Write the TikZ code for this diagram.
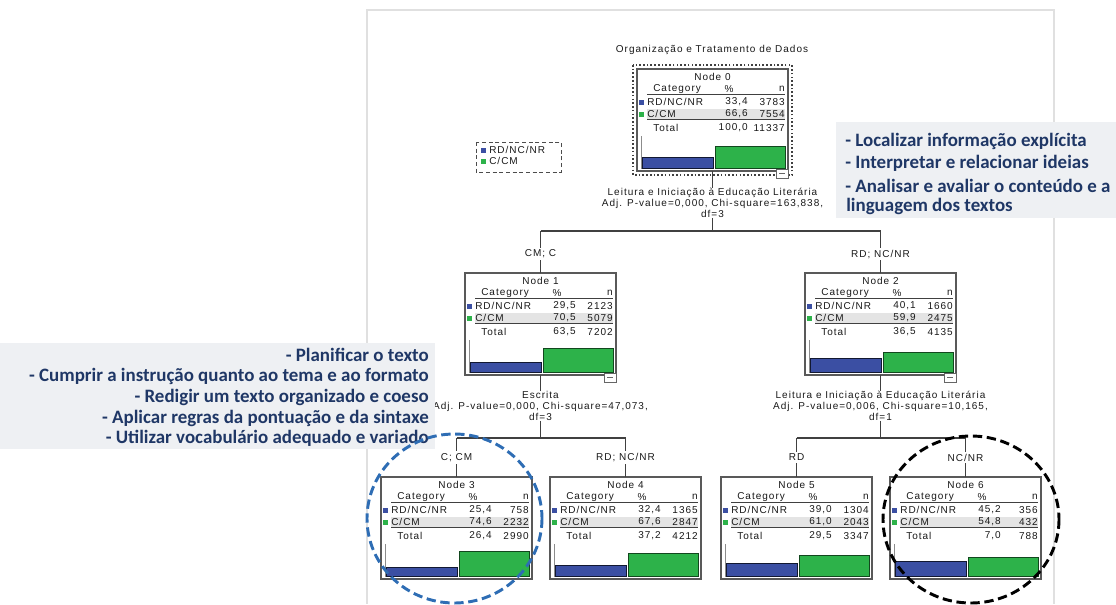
\documentclass[tikz,border=0pt]{standalone}
\usepackage{fontspec}
\setmainfont{Liberation Sans}
\newfontfamily\treefont[LetterSpace=10]{Liberation Sans}
\newfontfamily\notefont{Carlito}
\definecolor{barblue}{HTML}{3B4FA3}
\definecolor{bargreen}{HTML}{2DB24A}
\definecolor{notenavy}{HTML}{1F3766}
\definecolor{notebg}{HTML}{EEF0F3}
\definecolor{rowgray}{HTML}{E4E4E4}
\definecolor{framegray}{HTML}{E0E0E0}
\definecolor{circleblue}{HTML}{2E6DB4}

\tikzset{
  treetxt/.style={font=\treefont\fontsize{7.5}{8.2}\selectfont, inner sep=0pt, text=black!90},
  nodeframe/.style={draw=black!65, line width=0.9pt, fill=white, inner sep=0pt, outer sep=0pt,
    minimum width=113.25pt, minimum height=76.5pt, anchor=north west},
  rule/.style={draw=black!75, line width=0.6pt},
  bluebar/.style={fill=barblue, draw=black!70!barblue, line width=0.7pt},
  greenbar/.style={fill=bargreen, draw=black!60!bargreen, line width=0.7pt},
  edge/.style={draw=black!75, line width=0.8pt},
  branchlbl/.style={treetxt, fill=white, inner sep=1.5pt},
  splitlbl/.style={treetxt, align=center},
  notetxt/.style={font=\notefont\bfseries\fontsize{14.2}{16}\selectfont, text=notenavy, inner sep=0pt},
  focusring/.style={line width=2.2pt, dash pattern=on 7pt off 3.5pt},
}

% classification tree node: name, left, top, id, blue bar height, green bar height
\newcommand\ctnode[6]{%
  \node[nodeframe] (#1) at (#2,#3) {};
  \node[treetxt] at (#2+75.5,#3+8) {Node #4};
  \node[treetxt, anchor=west] at (#2+16,#3+20) {Category};
  \node[treetxt] at (#2+92,#3+20) {\%};
  \node[treetxt, anchor=east] at (#2+148,#3+20) {n};
  \draw[rule] (#2+10,#3+25) -- (#2+148,#3+25);
  \fill[rowgray] (#2+10,#3+39.5) rectangle (#2+148,#3+50);
  \draw[rule] (#2+10,#3+50.5) -- (#2+148,#3+50.5);
  \fill[barblue] (#2+2,#3+30.5) rectangle (#2+7,#3+35.5);
  \fill[bargreen] (#2+2,#3+42.5) rectangle (#2+7,#3+47.5);
  \node[treetxt, anchor=west] at (#2+10,#3+33) {RD/NC/NR};
  \node[treetxt, anchor=west] at (#2+10,#3+45) {C/CM};
  \node[treetxt, anchor=west] at (#2+16,#3+59) {Total};
  \draw[black!45, line width=0.6pt] (#2+4,#3+67) -- (#2+4,#3+100);
  \draw[bluebar] (#2+5,#3+99) rectangle (#2+76,#3+99-#5);
  \draw[greenbar] (#2+78,#3+99) rectangle (#2+148,#3+99-#6);
}
% table values: left, top, p1, n1, p2, n2, total %, total n
\newcommand\ctvalues[8]{%
  \node[treetxt, anchor=east] at (#1+111,#2+33) {#3};
  \node[treetxt, anchor=east] at (#1+148,#2+33) {#4};
  \node[treetxt, anchor=east] at (#1+111,#2+45) {#5};
  \node[treetxt, anchor=east] at (#1+148,#2+45) {#6};
  \node[treetxt, anchor=east] at (#1+111,#2+59) {#7};
  \node[treetxt, anchor=east] at (#1+148,#2+59) {#8};
}
% collapse button under an expanded node
\newcommand\ctcollapse[2]{%
  \draw[black!60, fill=white, line width=0.6pt] (#1+139,#2+100) rectangle (#1+151,#2+109);
  \draw[black!60, line width=0.6pt] (#1+142,#2+104.5) -- (#1+148,#2+104.5);
}

\begin{document}
\begin{tikzpicture}[x=0.75pt, y=-0.75pt]
\useasboundingbox (0,0) rectangle (1116,604);

% chart frame
\draw[framegray, line width=0.8pt] (367,604) -- (367,10) -- (1054,10) -- (1054,604);

% title
\node[treetxt] (title) at (712,50) {Organização e Tratamento de Dados};

% legend
\draw[black!70, line width=0.7pt, dash pattern=on 3pt off 2pt] (476,142) rectangle (561,172);
\fill[barblue] (481,147.5) rectangle (486,152.5);
\fill[bargreen] (481,158.5) rectangle (486,163.5);
\node[treetxt, anchor=west] (legA) at (489,150) {RD/NC/NR};
\node[treetxt, anchor=west] (legB) at (489,161) {C/CM};

% nodes
\draw[black!75, line width=1.3pt, dash pattern=on 1.2pt off 1.6pt] (633,65) rectangle (792,175);
\ctnode{n0}{637}{69}{0}{11.0}{22.0}
\ctvalues{637}{69}{33,4}{3783}{66,6}{7554}{100,0}{11337}
\ctcollapse{637}{69}

\ctnode{n1}{465}{273}{1}{9.7}{23.3}
\ctvalues{465}{273}{29,5}{2123}{70,5}{5079}{63,5}{7202}
\ctcollapse{465}{273}

\ctnode{n2}{805}{273}{2}{13.2}{19.8}
\ctvalues{805}{273}{40,1}{1660}{59,9}{2475}{36,5}{4135}
\ctcollapse{805}{273}

\ctnode{n3}{381}{477}{3}{8.4}{24.6}
\ctvalues{381}{477}{25,4}{758}{74,6}{2232}{26,4}{2990}

\ctnode{n4}{550}{477}{4}{10.7}{22.3}
\ctvalues{550}{477}{32,4}{1365}{67,6}{2847}{37,2}{4212}

\ctnode{n5}{721}{477}{5}{12.9}{20.1}
\ctvalues{721}{477}{39,0}{1304}{61,0}{2043}{29,5}{3347}

\ctnode{n6}{890}{477}{6}{14.9}{18.1}
\ctvalues{890}{477}{45,2}{356}{54,8}{432}{7,0}{788}

% splits
\node[splitlbl] (s0) at (712.5,203) {Leitura e Iniciação à Educação Literária\\Adj. P-value=0,000, Chi-square=163,838,\\df=3};
\coordinate (j0) at (712.5,231);
\draw[edge] (n0.south) -- (s0.north);
\draw[edge] (s0.south) -- (j0);
\draw[edge] (j0 -| n1.north) -- (j0 -| n2.north);
\draw[edge] (j0 -| n1.north) -- node[branchlbl, pos=0.55] (b1) {CM; C} (n1.north);
\draw[edge] (j0 -| n2.north) -- node[branchlbl, pos=0.55] (b2) {RD; NC/NR} (n2.north);

\node[splitlbl] (s1) at (540.5,406) {Escrita\\Adj. P-value=0,000, Chi-square=47,073,\\df=3};
\coordinate (j1) at (540.5,438);
\draw[edge] (n1.south) -- (s1.north);
\draw[edge] (s1.south) -- (j1);
\draw[edge] (j1 -| n3.north) -- (j1 -| n4.north);
\draw[edge] (j1 -| n3.north) -- node[branchlbl, pos=0.5] (b3) {C; CM} (n3.north);
\draw[edge] (j1 -| n4.north) -- node[branchlbl, pos=0.5] (b4) {RD; NC/NR} (n4.north);

\node[splitlbl] (s2) at (880.5,406) {Leitura e Iniciação à Educação Literária\\Adj. P-value=0,006, Chi-square=10,165,\\df=1};
\coordinate (j2) at (880.5,438);
\draw[edge] (n2.south) -- (s2.north);
\draw[edge] (s2.south) -- (j2);
\draw[edge] (j2 -| n5.north) -- (j2 -| n6.north);
\draw[edge] (j2 -| n5.north) -- node[branchlbl, pos=0.5] (b5) {RD} (n5.north);
\draw[edge] (j2 -| n6.north) -- node[branchlbl, pos=0.5] (b6) {NC/NR} (n6.north);

% reading skills note
\fill[notebg] (836,122) rectangle (1116,218);
\node[notetxt, anchor=west] (r1) at (845,141) {- Localizar informação explícita};
\node[notetxt, anchor=west] (r2) at (845,163) {- Interpretar e relacionar ideias};
\node[notetxt, anchor=west] (r3) at (845,186) {- Analisar e avaliar o conteúdo e a};
\node[notetxt, anchor=west] (r4) at (846,206) {linguagem dos textos};

% writing skills note
\fill[notebg] (0,343) rectangle (435,449);
\node[notetxt, anchor=east] (w1) at (429,355) {- Planificar o texto};
\node[notetxt, anchor=east] (w2) at (429,376) {- Cumprir a instrução quanto ao tema e ao formato};
\node[notetxt, anchor=east] (w3) at (429,397) {- Redigir um texto organizado e coeso};
\node[notetxt, anchor=east] (w4) at (429,418) {- Aplicar regras da pontuação e da sintaxe};
\node[notetxt, anchor=east] (w5) at (429,438) {- Utilizar vocabulário adequado e variado};

% highlighted leaves
\draw[focusring, circleblue] (454.5,518.5) ellipse [x radius=87.5, y radius=84.5];
\draw[focusring, black] (971,519.5) ellipse [x radius=88, y radius=83.5];
\end{tikzpicture}
\end{document}
